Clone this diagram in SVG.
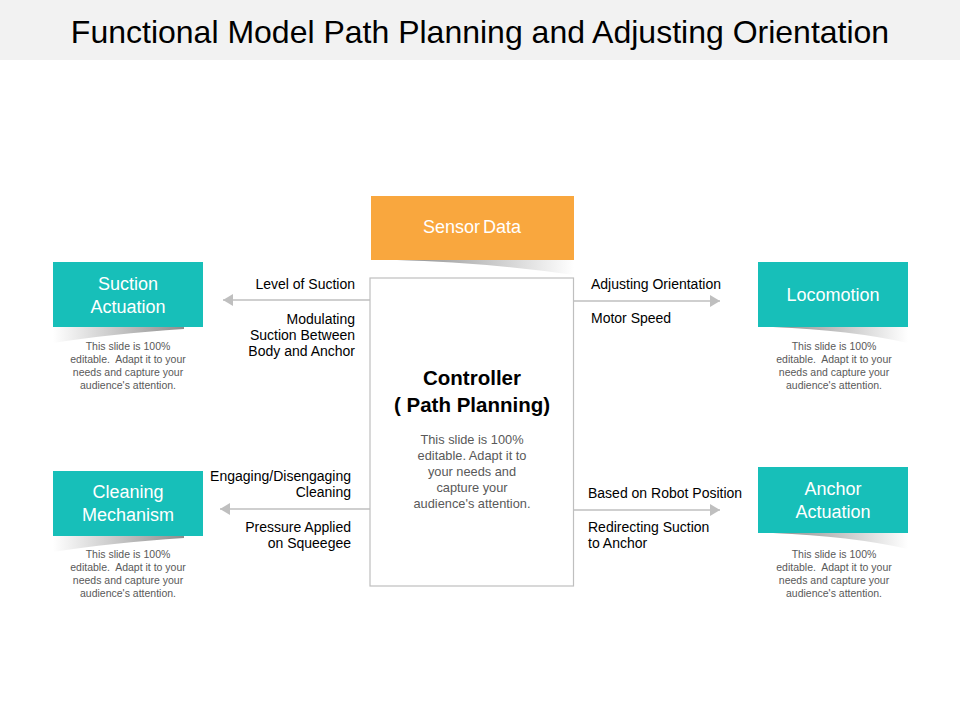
<svg xmlns="http://www.w3.org/2000/svg" width="960" height="720" viewBox="0 0 960 720">
<defs>
<linearGradient id="shL" x1="0" y1="0" x2="1" y2="0"><stop offset="0" stop-color="#ffffff"/><stop offset="1" stop-color="#8c8c8c"/></linearGradient>
<linearGradient id="shR" x1="0" y1="0" x2="1" y2="0"><stop offset="0" stop-color="#8c8c8c"/><stop offset="1" stop-color="#ffffff"/></linearGradient>
<marker id="arr" viewBox="0 0 10 12" refX="10" refY="6" markerWidth="10" markerHeight="12" markerUnits="userSpaceOnUse" orient="auto"><path d="M0,0 L10,6 L0,12 Z" fill="#bfbfbf"/></marker>
<style>
text{font-family:"Liberation Sans",Arial,sans-serif}
.title{font-size:32px;fill:#000;text-anchor:middle}
.box{fill:#17bfb9}
.bt{font-size:18px;fill:#fff;text-anchor:middle}
.desc{font-size:10.5px;fill:#595959;text-anchor:middle}
.lbl{font-size:14px;fill:#000}
.r{text-anchor:end}
.cd{font-size:12.8px;fill:#595959;text-anchor:middle}
.conn{stroke:#bfbfbf;stroke-width:1.3;fill:none}
</style>
</defs>
<rect x="0" y="0" width="960" height="60" fill="#f2f2f2"/>
<text class="title" x="480" y="43">Functional Model Path Planning and Adjusting Orientation</text>

<g id="connectors">
<line class="conn" x1="370" y1="300" x2="223" y2="300" marker-end="url(#arr)"/>
<line class="conn" x1="574" y1="301" x2="720" y2="301" marker-end="url(#arr)"/>
<line class="conn" x1="370" y1="509" x2="220" y2="509" marker-end="url(#arr)"/>
<line class="conn" x1="574" y1="510" x2="720" y2="510" marker-end="url(#arr)"/>
<text class="lbl r" x="355" y="289">Level of Suction</text>
<text class="lbl r" x="355" y="324">Modulating</text>
<text class="lbl r" x="355" y="340">Suction Between</text>
<text class="lbl r" x="355" y="356">Body and Anchor</text>
<text class="lbl" x="591" y="289">Adjusting Orientation</text>
<text class="lbl" x="591" y="323">Motor Speed</text>
<text class="lbl r" x="351" y="481">Engaging/Disengaging</text>
<text class="lbl r" x="351" y="497">Cleaning</text>
<text class="lbl r" x="351" y="532">Pressure Applied</text>
<text class="lbl r" x="351" y="548">on Squeegee</text>
<text class="lbl" x="588" y="498">Based on Robot Position</text>
<text class="lbl" x="588" y="532">Redirecting Suction</text>
<text class="lbl" x="588" y="548">to Anchor</text>
</g>

<g id="sensor">
<path d="M397,260 L574,260 L574,275 Q480,262 397,260 Z" fill="url(#shR)"/>
<rect x="371" y="196" width="203" height="64" fill="#f9a73e"/>
<text x="472" y="233" font-size="18" word-spacing="-2" fill="#fff" text-anchor="middle">Sensor Data</text>
</g>

<g id="controller">
<rect x="370" y="278" width="203.5" height="308" fill="#fff" stroke="#bfbfbf" stroke-width="1.2"/>
<text x="472" y="385" font-size="20.5" font-weight="bold" text-anchor="middle">Controller</text>
<text x="472" y="412" font-size="20.5" font-weight="bold" text-anchor="middle">( Path Planning)</text>
<text class="cd" x="472" y="444">This slide is 100%</text>
<text class="cd" x="472" y="460">editable. Adapt it to</text>
<text class="cd" x="472" y="476">your needs and</text>
<text class="cd" x="472" y="492">capture your</text>
<text class="cd" x="472" y="508">audience's attention.</text>
</g>

<g id="suction">
<path d="M53,327 L184,327 L184,329 Q110,334 53,343 Z" fill="url(#shL)"/>
<rect class="box" x="53" y="262" width="150" height="65"/>
<text class="bt" x="128" y="290">Suction</text>
<text class="bt" x="128" y="313">Actuation</text>
<text class="desc" x="128" y="350">This slide is 100%</text>
<text class="desc" x="128" y="363">editable.&#160; Adapt it to your</text>
<text class="desc" x="128" y="376">needs and capture your</text>
<text class="desc" x="128" y="389">audience's attention.</text>
</g>

<g id="locomotion">
<path d="M773,327 L908,327 L908,343 Q850,330 773,327 Z" fill="url(#shR)"/>
<rect class="box" x="758" y="262" width="150" height="65"/>
<text class="bt" x="833" y="301" font-size="19.3">Locomotion</text>
<text class="desc" x="834" y="350">This slide is 100%</text>
<text class="desc" x="834" y="363">editable.&#160; Adapt it to your</text>
<text class="desc" x="834" y="376">needs and capture your</text>
<text class="desc" x="834" y="389">audience's attention.</text>
</g>

<g id="cleaning">
<path d="M53,536 L184,536 L184,538 Q110,543 53,552 Z" fill="url(#shL)"/>
<rect class="box" x="53" y="471" width="150" height="65"/>
<text class="bt" x="128" y="498">Cleaning</text>
<text class="bt" x="128" y="521">Mechanism</text>
<text class="desc" x="128" y="558">This slide is 100%</text>
<text class="desc" x="128" y="571">editable.&#160; Adapt it to your</text>
<text class="desc" x="128" y="584">needs and capture your</text>
<text class="desc" x="128" y="597">audience's attention.</text>
</g>

<g id="anchor">
<path d="M773,533 L908,533 L908,549 Q850,536 773,533 Z" fill="url(#shR)"/>
<rect class="box" x="758" y="467" width="150" height="66"/>
<text class="bt" x="833" y="495">Anchor</text>
<text class="bt" x="833" y="518">Actuation</text>
<text class="desc" x="834" y="558">This slide is 100%</text>
<text class="desc" x="834" y="571">editable.&#160; Adapt it to your</text>
<text class="desc" x="834" y="584">needs and capture your</text>
<text class="desc" x="834" y="597">audience's attention.</text>
</g>
</svg>
